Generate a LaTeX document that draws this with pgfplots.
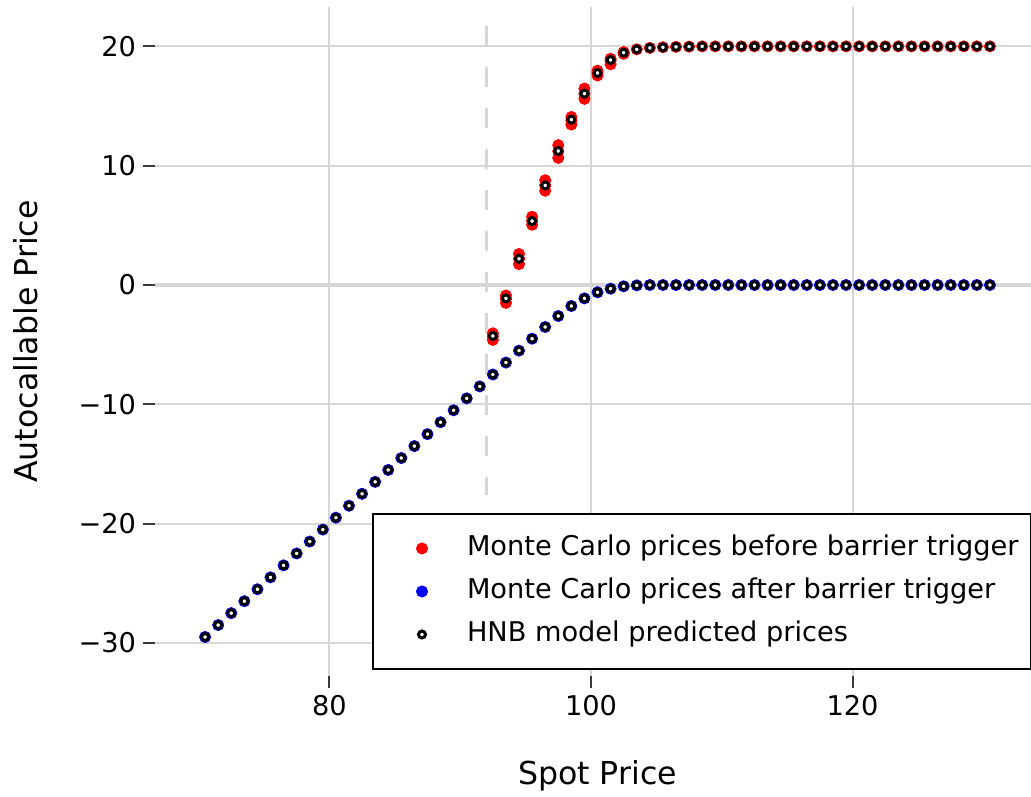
\documentclass[border=0pt]{standalone}
\usepackage{fontspec}
\setmainfont{DejaVu Sans}
\usepackage{pgfplots}
\pgfplotsset{compat=1.18}
\usepackage{pgfplotstable}
\definecolor{gridc}{HTML}{D6D6D6}
\definecolor{tickc}{HTML}{3A3A3A}

\pgfplotstableread{
x y
70.5 -29.5
71.5 -28.5
72.5 -27.5
73.5 -26.5
74.5 -25.5
75.5 -24.5
76.5 -23.5
77.5 -22.5
78.5 -21.5
79.5 -20.5
80.5 -19.5
81.5 -18.5
82.5 -17.5
83.5 -16.5
84.5 -15.5
85.5 -14.5
86.5 -13.5
87.5 -12.5
88.5 -11.5
89.5 -10.5
90.5 -9.5
91.5 -8.5
92.5 -7.5
93.5 -6.5
94.5 -5.5
95.5 -4.5
96.5 -3.52
97.5 -2.6
98.5 -1.76
99.5 -1.12
100.5 -0.61
101.5 -0.31
102.5 -0.11
103.5 -0.03
104.5 0
105.5 0
106.5 0
107.5 0
108.5 0
109.5 0
110.5 0
111.5 0
112.5 0
113.5 0
114.5 0
115.5 0
116.5 0
117.5 0
118.5 0
119.5 0
120.5 0
121.5 0
122.5 0
123.5 0
124.5 0
125.5 0
126.5 0
127.5 0
128.5 0
129.5 0
130.5 0
}\bluedata

\pgfplotstableread{
x y
92.5 -4.6
92.5 -4.3
92.5 -4.05
93.5 -1.5
93.5 -1.15
93.5 -0.88
94.5 1.75
94.5 2.2
94.5 2.6
95.5 5.05
95.5 5.38
95.5 5.72
96.5 7.9
96.5 8.35
96.5 8.78
97.5 10.65
97.5 11.2
97.5 11.72
98.5 13.45
98.5 13.8
98.5 14.08
99.5 15.6
99.5 16.03
99.5 16.46
100.5 17.56
100.5 17.77
100.5 17.96
101.5 18.5
101.5 18.8
101.5 18.96
102.5 19.38
102.5 19.45
102.5 19.52
103.5 19.75
104.5 19.87
105.5 19.93
106.5 19.96
107.5 19.98
108.5 20
109.5 20
110.5 20
111.5 20
112.5 20
113.5 20
114.5 20
115.5 20
116.5 20
117.5 20
118.5 20
119.5 20
120.5 20
121.5 20
122.5 20
123.5 20
124.5 20
125.5 20
126.5 20
127.5 20
128.5 20
129.5 20
130.5 20
}\reddata

\pgfplotstableread{
x y
70.5 -29.5
71.5 -28.5
72.5 -27.5
73.5 -26.5
74.5 -25.5
75.5 -24.5
76.5 -23.5
77.5 -22.5
78.5 -21.5
79.5 -20.5
80.5 -19.5
81.5 -18.5
82.5 -17.5
83.5 -16.5
84.5 -15.5
85.5 -14.5
86.5 -13.5
87.5 -12.5
88.5 -11.5
89.5 -10.5
90.5 -9.5
91.5 -8.5
92.5 -7.5
93.5 -6.5
94.5 -5.5
95.5 -4.5
96.5 -3.52
97.5 -2.6
98.5 -1.76
99.5 -1.12
100.5 -0.61
101.5 -0.31
102.5 -0.11
103.5 -0.03
104.5 0
105.5 0
106.5 0
107.5 0
108.5 0
109.5 0
110.5 0
111.5 0
112.5 0
113.5 0
114.5 0
115.5 0
116.5 0
117.5 0
118.5 0
119.5 0
120.5 0
121.5 0
122.5 0
123.5 0
124.5 0
125.5 0
126.5 0
127.5 0
128.5 0
129.5 0
130.5 0
92.5 -4.27
93.5 -1.12
94.5 2.2
95.5 5.36
96.5 8.35
97.5 11.23
98.5 13.86
99.5 16.04
100.5 17.77
101.5 18.86
102.5 19.47
103.5 19.75
104.5 19.87
105.5 19.92
106.5 19.96
107.5 19.98
108.5 20
109.5 20
110.5 20
111.5 20
112.5 20
113.5 20
114.5 20
115.5 20
116.5 20
117.5 20
118.5 20
119.5 20
120.5 20
121.5 20
122.5 20
123.5 20
124.5 20
125.5 20
126.5 20
127.5 20
128.5 20
129.5 20
130.5 20
}\hnbdata

\begin{document}
\begin{tikzpicture}
\begin{axis}[
  scale only axis, width=442.5pt, height=334.5pt,
  at={(0,0)}, anchor=south west,
  xmin=66.67, xmax=134.33, ymin=-32.77, ymax=23.3,
  axis line style={draw=none},
  xtick={80,100,120}, xticklabels={80,100,120},
  ytick={-30,-20,-10,0,10,20}, yticklabels={−30,−20,−10,0,10,20},
  xtick pos=left, ytick pos=left,
  tick align=outside,
  major tick length=6pt,
  major tick style={tickc, line width=1pt},
  grid=major, major grid style={gridc, line width=1pt},
  tick label style={font=\fontsize{13.6}{16}\selectfont},
  xlabel={Spot Price}, ylabel={Autocallable Price},
  label style={font=\fontsize{15.8}{19}\selectfont},
  xlabel style={at={(axis description cs:0.5,-0.1629)}, anchor=base},
  ylabel style={at={(axis description cs:-0.1333,0.5)}, anchor=base, rotate=0},
  legend style={at={(axis description cs:0.2452,0.009)}, anchor=south west,
    draw=black, line width=1pt, fill=white, inner xsep=6pt, inner ysep=10.75pt,
    row sep=8.5pt, font=\fontsize{13.6}{16}\selectfont,
    nodes={inner sep=0pt, text height=10pt, text depth=3pt}},
  legend cell align=left,
  legend image code/.code={\path (-18pt,0pt) (22pt,0pt); \draw[#1] plot coordinates {(0pt,0pt)};},
]
\addplot[forget plot, gridc, line width=1.6pt] coordinates {(60,0) (140,0)};
\addplot[forget plot, gridc, line width=1.75pt, dash pattern=on 9.75pt off 10.75pt] coordinates {(92,21.7) (92,-17.6)};
\addplot[only marks, mark=*, mark size=2.8pt, mark options={draw=red, fill=red, line width=0.4pt}] table {\reddata};
\addlegendentry{Monte Carlo prices before barrier trigger}
\addplot[only marks, mark=*, mark size=2.8pt, mark options={draw=blue, fill=blue, line width=0.4pt}] table {\bluedata};
\addlegendentry{Monte Carlo prices after barrier trigger}
\addplot[only marks, mark=*, mark size=1.75pt, mark options={draw=black, fill=white, line width=1.5pt}] table {\hnbdata};
\addlegendentry{HNB model predicted prices}
\end{axis}
\pgfresetboundingbox
\path[use as bounding box] (-77.5pt,-60pt) rectangle (438pt,338pt);
\end{tikzpicture}
\end{document}
